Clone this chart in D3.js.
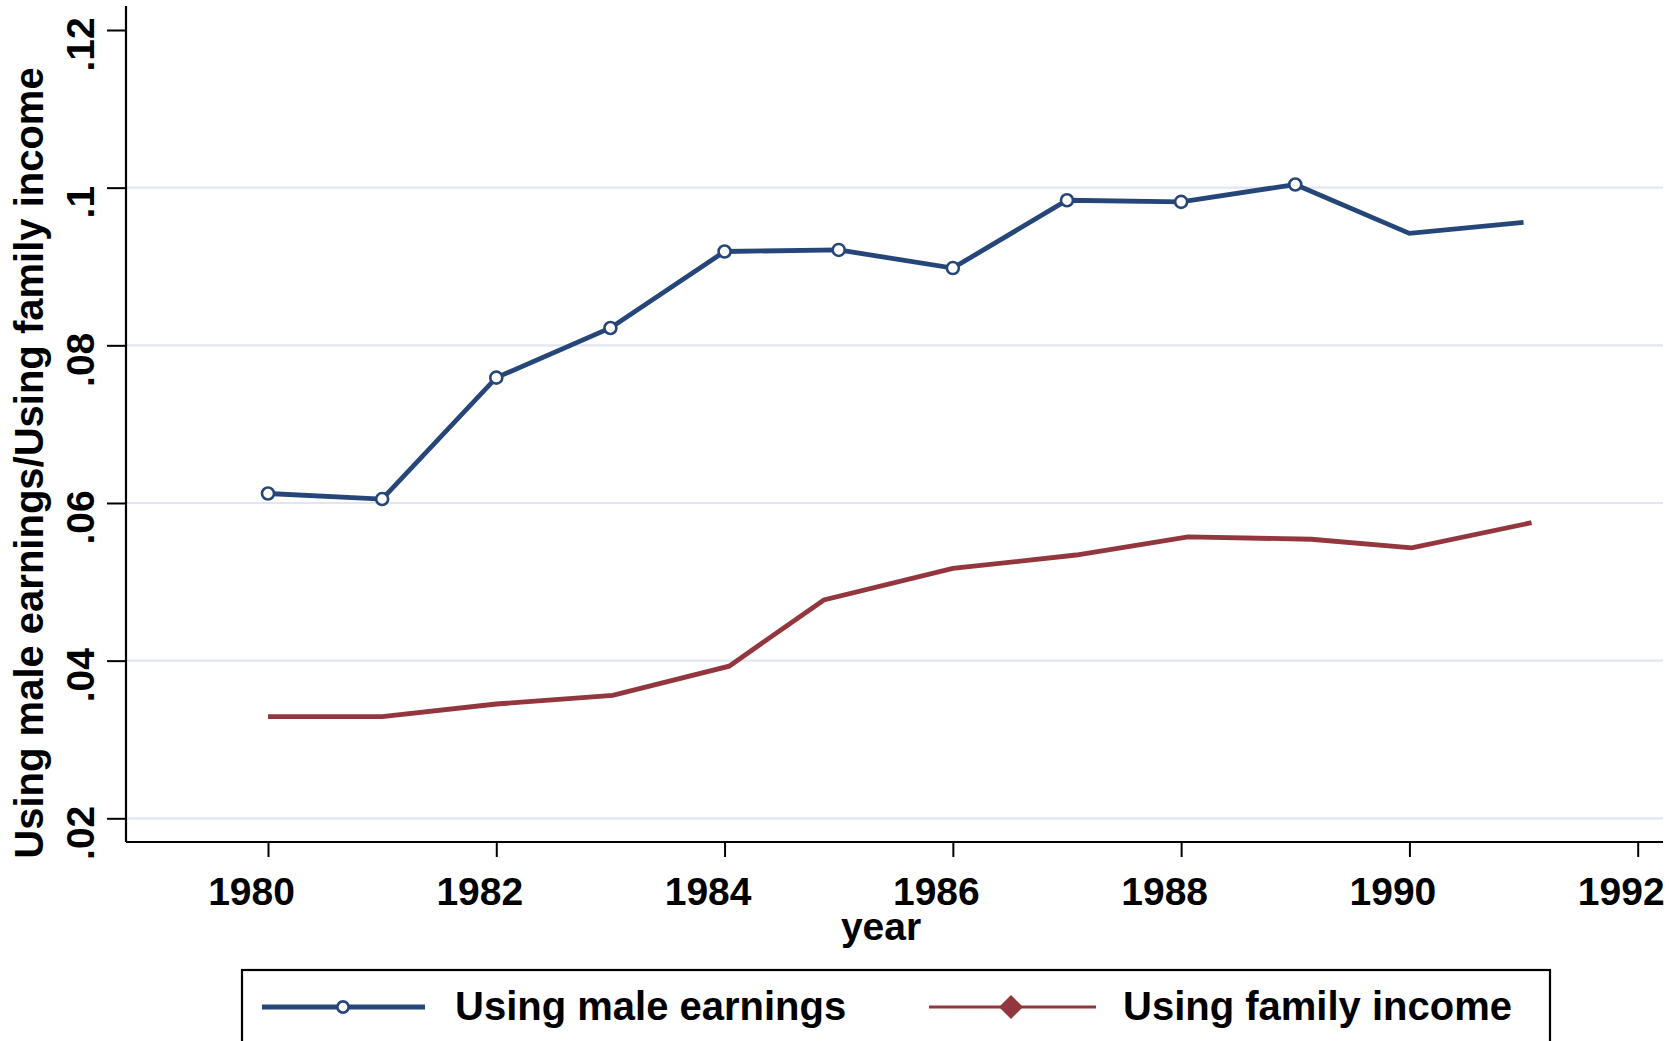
<!DOCTYPE html>
<html>
<head>
<meta charset="utf-8">
<script src="https://cdn.jsdelivr.net/npm/d3@7"></script>
<style>
  html, body { margin: 0; padding: 0; background: #fff; }
  svg { display: block; }
  text { font-family: "Liberation Sans", Arial, Helvetica, sans-serif; font-weight: bold; fill: #000; }
</style>
</head>
<body>
<svg id="chart" width="1669" height="1041"></svg>
<script>
// ---- Data ----
const years = [1980, 1981, 1982, 1983, 1984, 1985, 1986, 1987, 1988, 1989, 1990, 1991];
const maleEarnings = [0.0612, 0.0605, 0.0759, 0.0822, 0.0919, 0.0921, 0.0898, 0.0984, 0.0982, 0.1004, 0.0942, 0.0956];
const maleMarkerCount = 10; // circles drawn for 1980-1989 only
const familyYears = [1980, 1981, 1982, 1983.02, 1984.04, 1984.87, 1986, 1987.08, 1988.06, 1989.14, 1990.02, 1991.07];
const familyIncome = [0.0329, 0.0329, 0.0345, 0.0356, 0.0393, 0.0477, 0.0517, 0.0534, 0.0557, 0.0554, 0.0543, 0.0575];
const xTicks = [1980, 1982, 1984, 1986, 1988, 1990, 1992];
const yTicks = [0.02, 0.04, 0.06, 0.08, 0.10, 0.12];
const yTickLabels = [".02", ".04", ".06", ".08", ".1", ".12"];
const gridValues = [0.02, 0.04, 0.06, 0.08, 0.10];
const seriesNames = ["Using male earnings", "Using family income"];
const xTitle = "year";
const yTitle = "Using male earnings/Using family income";

// ---- Layout ----
const blue = "#26467a", red = "#93363d", grid = "#e1e6f0";
const plot = { left: 126, right: 1663, top: 6, bottom: 842 };

const x = d3.scaleLinear().domain([1980, 1992]).range([268, 1637.7]);
const y = d3.scaleLinear().domain([0.02, 0.12]).range([818.3, 30]);

const svg = d3.select("#chart");

// gridlines
svg.append("g").selectAll("line").data(gridValues).join("line")
  .attr("x1", plot.left).attr("x2", plot.right)
  .attr("y1", d => y(d)).attr("y2", d => y(d))
  .attr("stroke", grid).attr("stroke-width", 2.2);

// x axis
const xAxis = svg.append("g").attr("transform", `translate(0,${plot.bottom})`)
  .call(d3.axisBottom(x).tickValues(xTicks).tickFormat(d3.format("d")).tickSize(15).tickPadding(24));
xAxis.select(".domain").remove();
xAxis.selectAll(".tick line").attr("stroke", "#000").attr("stroke-width", 2);
xAxis.selectAll(".tick text").attr("font-size", 39).attr("dy", null).attr("y", 63).attr("x", -17)
  .style("font-family", '"Liberation Sans", Arial, sans-serif').style("font-weight", "bold").attr("fill", "#000");
svg.append("line").attr("x1", plot.left).attr("x2", plot.right)
  .attr("y1", plot.bottom).attr("y2", plot.bottom).attr("stroke", "#000").attr("stroke-width", 2.2);

// y axis
const yAxis = svg.append("g").attr("transform", `translate(${plot.left},0)`)
  .call(d3.axisLeft(y).tickValues(yTicks).tickFormat((d, i) => yTickLabels[i]).tickSize(19));
yAxis.select(".domain").remove();
yAxis.selectAll(".tick line").attr("stroke", "#000").attr("stroke-width", 2);
yAxis.selectAll(".tick text")
  .attr("x", null).attr("dy", null).attr("text-anchor", "middle")
  .attr("transform", "translate(-32,14) rotate(-90)")
  .attr("font-size", 39)
  .style("font-family", '"Liberation Sans", Arial, sans-serif').style("font-weight", "bold").attr("fill", "#000");
svg.append("line").attr("x1", plot.left).attr("x2", plot.left)
  .attr("y1", plot.top).attr("y2", plot.bottom).attr("stroke", "#000").attr("stroke-width", 2.2);

// titles
svg.append("text").attr("x", 881).attr("y", 940).attr("text-anchor", "middle")
  .attr("font-size", 39).text(xTitle);
svg.append("text").attr("transform", "translate(43,463) rotate(-90)").attr("text-anchor", "middle")
  .attr("font-size", 40).text(yTitle);

// lines
const line = d3.line().x(d => x(d[0])).y(d => y(d[1]));
svg.append("path").datum(familyYears.map((t, i) => [t, familyIncome[i]]))
  .attr("d", line).attr("fill", "none").attr("stroke", red).attr("stroke-width", 4.8)
  .attr("stroke-linejoin", "miter");
svg.append("path").datum(years.map((t, i) => [t, maleEarnings[i]]))
  .attr("d", line).attr("fill", "none").attr("stroke", blue).attr("stroke-width", 4.8)
  .attr("stroke-linejoin", "miter");
svg.append("g").selectAll("circle").data(years.slice(0, maleMarkerCount)).join("circle")
  .attr("cx", d => x(d)).attr("cy", (d, i) => y(maleEarnings[i])).attr("r", 6)
  .attr("fill", "#fff").attr("stroke", blue).attr("stroke-width", 2.6);

// legend
const lg = svg.append("g");
lg.append("rect").attr("x", 242).attr("y", 970).attr("width", 1308).attr("height", 120)
  .attr("fill", "#fff").attr("stroke", "#000").attr("stroke-width", 2.2);
lg.append("line").attr("x1", 262).attr("x2", 425).attr("y1", 1007).attr("y2", 1007)
  .attr("stroke", blue).attr("stroke-width", 5);
lg.append("circle").attr("cx", 343).attr("cy", 1007).attr("r", 5.6)
  .attr("fill", "#fff").attr("stroke", blue).attr("stroke-width", 2.6);
lg.append("text").attr("x", 455).attr("y", 1020).attr("font-size", 40).text(seriesNames[0]);
lg.append("line").attr("x1", 929).attr("x2", 1096).attr("y1", 1007).attr("y2", 1007)
  .attr("stroke", red).attr("stroke-width", 2.8);
lg.append("path").attr("d", "M1011,995 L1023,1007 L1011,1019 L999,1007 Z").attr("fill", red);
lg.append("text").attr("x", 1123).attr("y", 1020).attr("font-size", 40).text(seriesNames[1]);
</script>
</body>
</html>
